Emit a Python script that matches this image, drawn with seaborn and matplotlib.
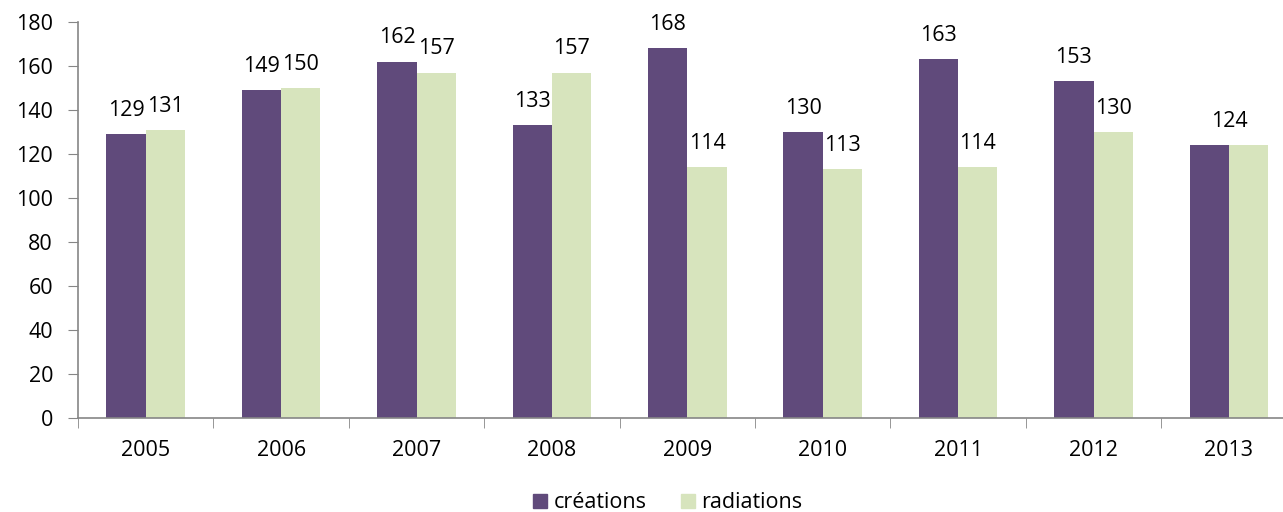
import matplotlib.pyplot as plt
import matplotlib.ticker as mticker
import pandas as pd
import seaborn as sns

YEARS = ["2005", "2006", "2007", "2008", "2009", "2010", "2011", "2012", "2013"]
CREATIONS = [129, 149, 162, 133, 168, 130, 163, 153, 124]
RADIATIONS = [131, 150, 157, 157, 114, 113, 114, 130, 124]
SERIES = ["créations", "radiations"]
COLORS = ["#604A7B", "#D7E4BD"]
FS = 15.5


def main() -> None:
    df = pd.DataFrame({
        "year": YEARS * 2,
        "value": CREATIONS + RADIATIONS,
        "serie": [SERIES[0]] * len(YEARS) + [SERIES[1]] * len(YEARS),
    })

    sns.set_style("white")
    plt.rcParams["font.family"] = ["Open Sans", "DejaVu Sans"]
    plt.rcParams["text.color"] = "black"
    plt.rcParams["xtick.color"] = "black"
    plt.rcParams["ytick.color"] = "black"

    fig = plt.figure(figsize=(12.83, 5.12), dpi=100)
    ax = fig.add_axes([78 / 1283, 94 / 512, 9 * 135.4 / 1283, 396 / 512])
    sns.barplot(
        data=df, x="year", y="value", hue="serie", order=YEARS,
        hue_order=SERIES, palette=COLORS, width=0.58, saturation=1,
        linewidth=0, ax=ax,
    )

    # data labels (one centred label when both values are equal)
    for k, (cont, vals, other) in enumerate(zip(ax.containers,
                                                [CREATIONS, RADIATIONS],
                                                [RADIATIONS, CREATIONS])):
        for i, (patch, v) in enumerate(zip(cont.patches, vals)):
            if v == other[i]:
                if k > 0:
                    continue
                x = i
            else:
                x = patch.get_x() + patch.get_width() / 2
            ax.text(x, v + 6, f"{v}", ha="center", va="bottom", fontsize=FS)

    ax.set_xlim(-0.5, len(YEARS) - 0.5)
    ax.set_ylim(0, 180)
    ax.yaxis.set_major_locator(mticker.MultipleLocator(20))
    ax.set_xlabel("")
    ax.set_ylabel("")
    ax.tick_params(axis="y", labelsize=FS, length=7, color="#868686",
                   direction="out", left=True, pad=11, labelcolor="black")
    ax.set_xticks(range(len(YEARS)))
    ax.set_xticklabels(YEARS)
    ax.tick_params(axis="x", which="major", labelsize=FS, length=0, pad=16,
                   labelcolor="black")
    ax.set_xticks([i - 0.5 for i in range(len(YEARS) + 1)], minor=True)
    ax.tick_params(axis="x", which="minor", length=7, color="#868686",
                   direction="out", bottom=True)

    for side in ["top", "right"]:
        ax.spines[side].set_visible(False)
    for side in ["left", "bottom"]:
        ax.spines[side].set_color("#868686")
        ax.spines[side].set_linewidth(1.2)

    ax.legend_.remove()
    handles = [plt.Rectangle((0, 0), 1, 1, color=c) for c in COLORS]
    fig.legend(handles, SERIES, loc="center", bbox_to_anchor=(668 / 1283, 1 - 503 / 512),
               ncol=2, frameon=False, fontsize=FS, handlelength=0.65,
               handleheight=0.65, handletextpad=0.3, columnspacing=1.6)

    fig.savefig("out.png", dpi=100)
    plt.close(fig)


if __name__ == "__main__":
    main()
